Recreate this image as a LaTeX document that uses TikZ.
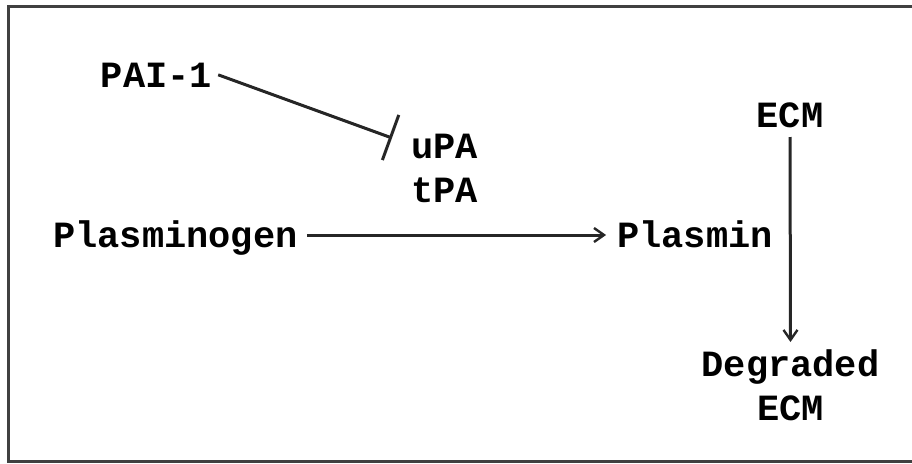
\documentclass[tikz,border=0pt]{standalone}
\usepackage{fontspec}
\setmainfont{Liberation Mono}
\usetikzlibrary{arrows.meta}
\begin{document}
\begin{tikzpicture}[x=1pt,y=-1pt,
  lbl/.style={inner sep=0pt,anchor=base,font=\fontsize{37}{44}\selectfont\bfseries,align=center},
  conn/.style={line width=3pt,black!85},
  act/.style={conn,-{Straight Barb[length=10pt,width=14pt,line width=2.4pt]}},
  inhib/.style={conn,-{Bar[width=48pt,line width=3pt]}}]
\useasboundingbox (0,0) rectangle (912,463);
\draw[line width=3pt,black!75] (912,6) -- (8,6) -- (8,461) -- (912,461);
\node[lbl] (pai) at (156.5,87) {PAI-1};
\node[lbl] (upa) at (444.5,202) {uPA\\tPA};
\node[lbl] (pg) at (175.5,247) {Plasminogen};
\node[lbl] (pl) at (695,247) {Plasmin};
\node[lbl] (ecm) at (790,127) {ECM};
\node[lbl] (deg) at (790.5,420) {Degraded\\ECM};
\coordinate (inh) at (392,138);
\draw[inhib] ([xshift=6pt]pai.east) -- (inh);
\draw[act] ([xshift=9pt,yshift=12pt]pg.base east) -- ([xshift=-11pt,yshift=12pt]pl.base west);
\draw[act] ([yshift=-10pt]ecm.base) -- ([yshift=78pt]deg.base);
\end{tikzpicture}
\end{document}
